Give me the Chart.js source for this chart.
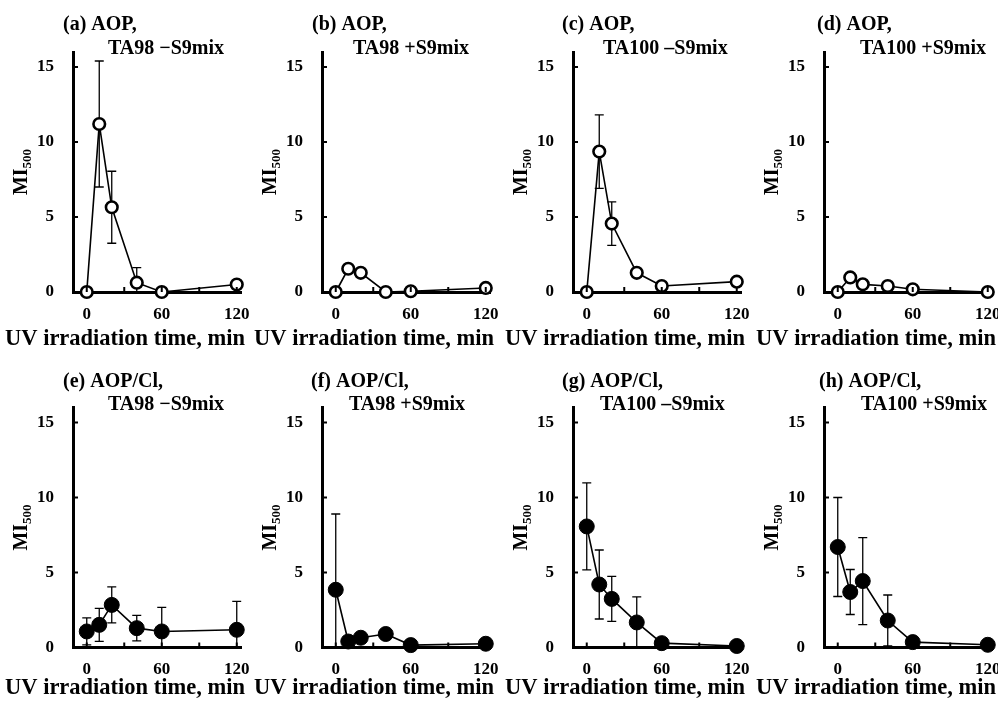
<!DOCTYPE html>
<html><head><meta charset="utf-8">
<script src="https://cdn.jsdelivr.net/npm/chart.js@4.4.1/dist/chart.umd.min.js"></script>
<style>
html,body{margin:0;padding:0;background:#fff;width:998px;height:704px;overflow:hidden;position:relative}
canvas{position:absolute}
</style></head><body>
<script>
// ---------- data ----------
const times = [0, 10, 20, 40, 60, 120];
const xTicks = [0, 30, 60, 90, 120];
const xTickLabels = ['0', '', '60', '', '120'];
const yTicks = [0, 5, 10, 15];
const yTickLabels = ['0', '5', '10', '15'];
const xTitle = 'UV irradiation time, min';
const yTitleMain = 'MI';
const yTitleSub = '500';

const titleLine1 = ['(a) AOP,', '(b) AOP,', '(c) AOP,', '(d) AOP,',
                    '(e) AOP/Cl,', '(f) AOP/Cl,', '(g) AOP/Cl,', '(h) AOP/Cl,'];
const titleLine2 = ['TA98 \u2212S9mix', 'TA98 +S9mix', 'TA100 \u2013S9mix', 'TA100 +S9mix',
                    'TA98 \u2212S9mix', 'TA98 +S9mix', 'TA100 \u2013S9mix', 'TA100 +S9mix'];

const miA = [0, 11.2, 5.65, 0.62, 0, 0.5];
const errA = [0, 4.2, 2.4, 1.0, 0, 0];
const miB = [0, 1.55, 1.28, 0, 0.05, 0.27];
const errB = [0, 0, 0, 0, 0, 0];
const miC = [0, 9.36, 4.56, 1.28, 0.4, 0.69];
const errC = [0, 2.45, 1.45, 0, 0, 0];
const miD = [0, 0.97, 0.51, 0.4, 0.18, 0];
const errD = [0, 0, 0, 0, 0, 0];
const miE = [1.07, 1.51, 2.84, 1.29, 1.07, 1.18];
const errE = [0.9, 1.1, 1.2, 0.85, 1.6, 1.9];
const miF = [3.85, 0.4, 0.65, 0.9, 0.16, 0.25];
const errF = [5.05, 0, 0, 0, 0, 0];
const miG = [8.07, 4.2, 3.24, 1.67, 0.29, 0.1];
const errG = [2.9, 2.3, 1.5, 1.7, 0, 0];
const miH = [6.7, 3.7, 4.43, 1.8, 0.36, 0.18];
const errH = [3.3, 1.5, 2.9, 1.7, 0, 0];

const seriesValues = [miA, miB, miC, miD, miE, miF, miG, miH];
const seriesErrors = [errA, errB, errC, errD, errE, errF, errG, errH];

// ---------- layout / style ----------
const FONT = '"Liberation Serif", "Times New Roman", serif';
const colLeft = [0, 249, 500, 751];
const rowTop = [0, 352];
const canvasW = 262, canvasH = 352;
const areaTop = [52, 55.5];        // chart area top inside canvas, per row
const xAxisH = [60, 56.5];          // x scale box height, per row
const yAxisW = 73;
const title1X = [63, 63, 62, 66, 63, 62, 62, 68];
const title2X = [108, 104, 103, 109, 108, 100, 100, 110];
const title1Y = [25, 30];
const title2Y = [49, 53];
const xTitleY = [339, 336];

const decor = {
  id: 'decor',
  beforeDatasetsDraw(chart, args, opts) {
    const {ctx, chartArea} = chart;
    const xs = chart.scales.x, ys = chart.scales.y;
    const vals = opts.values, errs = opts.errors;
    ctx.save();
    ctx.beginPath();
    ctx.rect(chartArea.left, chartArea.top - 2, chartArea.right - chartArea.left, chartArea.bottom - chartArea.top + 2);
    ctx.clip();
    ctx.strokeStyle = '#000';
    ctx.lineWidth = 1.3;
    for (let i = 0; i < times.length; i++) {
      const e = errs[i];
      if (!e) continue;
      const px = xs.getPixelForValue(times[i]);
      const yHi = ys.getPixelForValue(vals[i] + e);
      const yLo = ys.getPixelForValue(vals[i] - e);
      ctx.beginPath();
      ctx.moveTo(px, yLo); ctx.lineTo(px, yHi);
      ctx.moveTo(px - 4.5, yHi); ctx.lineTo(px + 4.5, yHi);
      ctx.moveTo(px - 4.5, yLo); ctx.lineTo(px + 4.5, yLo);
      ctx.stroke();
    }
    ctx.restore();
  },
  afterDraw(chart, args, opts) {
    const {ctx, chartArea} = chart;
    const xs = chart.scales.x, ys = chart.scales.y;
    ctx.save();
    ctx.strokeStyle = '#000';
    ctx.lineWidth = 2;
    // inner ticks
    yTicks.forEach(v => {
      if (v === 0) return;
      const py = ys.getPixelForValue(v);
      ctx.beginPath(); ctx.moveTo(chartArea.left, py); ctx.lineTo(chartArea.left + 5, py); ctx.stroke();
    });
    xTicks.forEach(v => {
      const px = xs.getPixelForValue(v);
      ctx.beginPath(); ctx.moveTo(px, chartArea.bottom); ctx.lineTo(px, chartArea.bottom - 5); ctx.stroke();
    });
    ctx.fillStyle = '#000';
    // panel titles
    ctx.font = 'bold 20px ' + FONT;
    ctx.textBaseline = 'middle';
    ctx.textAlign = 'left';
    ctx.fillText(titleLine1[opts.index], title1X[opts.index], title1Y[opts.row]);
    ctx.fillText(titleLine2[opts.index], title2X[opts.index], title2Y[opts.row]);
    // x title
    ctx.font = 'bold 22.5px ' + FONT;
    ctx.textAlign = 'center';
    ctx.fillText(xTitle, 125, xTitleY[opts.row]);
    // y title with subscript
    const cy = (chartArea.top + chartArea.bottom) / 2;
    ctx.translate(20, cy);
    ctx.rotate(-Math.PI / 2);
    ctx.font = 'bold 20px ' + FONT;
    const w1 = ctx.measureText(yTitleMain).width;
    ctx.font = 'bold 13px ' + FONT;
    const w2 = ctx.measureText(yTitleSub).width;
    const start = -(w1 + w2) / 2;
    ctx.textAlign = 'left';
    ctx.textBaseline = 'alphabetic';
    ctx.font = 'bold 20px ' + FONT;
    ctx.fillText(yTitleMain, start, 7);
    ctx.font = 'bold 13px ' + FONT;
    ctx.fillText(yTitleSub, start + w1, 11);
    ctx.restore();
  }
};

for (let i = 0; i < 8; i++) {
  const row = Math.floor(i / 4), col = i % 4;
  const cv = document.createElement('canvas');
  cv.width = canvasW; cv.height = canvasH;
  cv.style.left = colLeft[col] + 'px';
  cv.style.top = rowTop[row] + 'px';
  cv.style.width = canvasW + 'px'; cv.style.height = canvasH + 'px';
  document.body.appendChild(cv);
  const vals = seriesValues[i];
  const filled = row === 1;
  new Chart(cv, {
    type: 'line',
    data: {
      datasets: [{
        data: times.map((t, k) => ({x: t, y: vals[k]})),
        borderColor: '#000',
        borderWidth: 1.6,
        tension: 0,
        clip: false,
        pointRadius: filled ? 7.5 : 5.8,
        pointBorderWidth: filled ? 1 : 2.6,
        pointBackgroundColor: filled ? '#000' : '#fff',
        pointBorderColor: '#000'
      }]
    },
    options: {
      responsive: false,
      animation: false,
      devicePixelRatio: 1,
      layout: {padding: {top: areaTop[row], left: 0, right: canvasW - 241.75, bottom: 0}},
      plugins: {
        legend: {display: false},
        tooltip: {enabled: false},
        decor: {values: vals, errors: seriesErrors[i], index: i, row: row}
      },
      scales: {
        x: {
          type: 'linear', min: -11, max: 124,
          afterBuildTicks: s => { s.ticks = xTicks.map(v => ({value: v})); },
          afterFit: s => { s.height = xAxisH[row]; },
          ticks: {
            callback: (v, k) => xTickLabels[k],
            font: {family: FONT, size: 17, weight: 'bold'},
            color: '#000', padding: 0, maxRotation: 0, autoSkip: false
          },
          grid: {display: false, drawTicks: true, tickLength: 12},
          border: {display: true, color: '#000', width: 3},
          title: {display: false}
        },
        y: {
          type: 'linear', min: 0, max: 16,
          afterBuildTicks: s => { s.ticks = yTicks.map(v => ({value: v})); },
          afterFit: s => { s.width = yAxisW; },
          ticks: {
            callback: (v, k) => yTickLabels[k],
            font: {family: FONT, size: 17, weight: 'bold'},
            color: '#000', padding: 0, autoSkip: false
          },
          grid: {display: false, drawTicks: true, tickLength: 19},
          border: {display: true, color: '#000', width: 3},
          title: {display: false}
        }
      }
    },
    plugins: [decor]
  });
}
</script>
</body></html>
